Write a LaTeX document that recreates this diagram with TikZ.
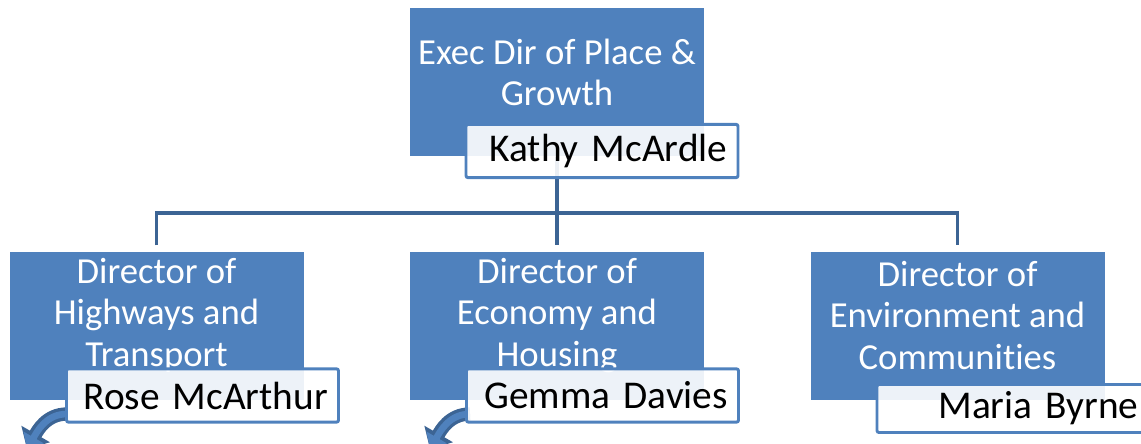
\documentclass[tikz,border=0pt]{standalone}
\usepackage{fontspec}
\setmainfont{Carlito}[Ligatures=NoCommon]
\usetikzlibrary{positioning,arrows.meta,calc}
\definecolor{boxblue}{RGB}{79,129,189}
\definecolor{lineblue}{RGB}{60,100,148}

\begin{document}
\begin{tikzpicture}
[x=0.75pt,y=-0.75pt,
role/.style={rectangle, fill=boxblue, minimum width=220.5pt, minimum height=111.5pt, inner sep=0pt},
roletext/.style={text=white, align=center, font=\fontsize{27.5}{31}\selectfont},
person/.style={rectangle, rounded corners=1.5pt, draw=boxblue, line width=2.2pt,
fill=white, fill opacity=0.9, text opacity=1, text width=188pt, align=right,
inner xsep=8pt, minimum height=40pt, font=\fontsize{29.5}{34}\selectfont},
link/.style={draw=lineblue, line width=2.8pt},
arcout/.style={draw=lineblue, line width=10pt, -{Triangle[length=13pt,width=24pt]}},
arcin/.style={draw=boxblue, line width=5pt, -{Triangle[length=10pt,width=17pt]}}]
\useasboundingbox (0,0) rectangle (1141,443);
\node[role] (exec) at (557,82) {};
\node[role] (highways) at (156.5,326) {};
\node[role] (economy) at (557,326) {};
\node[role] (environment) at (957.5,326) {};
\node[roletext] (exectext) at ([yshift=7pt]exec.center) {Exec Dir of Place \&\\Growth};
\node[roletext] (highwaystext) at ([yshift=8pt]highways.center) {Director of\\Highways and\\Transport};
\node[roletext] (economytext) at ([yshift=8pt]economy.center) {Director of\\Economy and\\Housing};
\node[roletext] (environmenttext) at ([yshift=8pt]environment.center) {Director of\\Environment and\\Communities};

\coordinate (bus) at (557,213);
\coordinate (rosetip) at (27,449);
\coordinate (gemmatip) at (430,449);
\draw[link] (exec.south) -- (bus);
\draw[link] ([yshift=4.5pt]highways.north) |- (bus) -| ([yshift=4.5pt]environment.north);
\draw[link] (bus) -- ([yshift=4.5pt]economy.north);

\draw[arcout] (67,414) to[out=180,in=60] (rosetip);
\draw[arcin] (67,414) to[out=180,in=60] (rosetip);
\draw[arcout] (470,414) to[out=180,in=60] (gemmatip);
\draw[arcin] (470,414) to[out=180,in=60] (gemmatip);

\node[person] (kathy) at (602,151) {Kathy McArdle};
\node[person] (rose) at (202.5,395.5) {Rose McArthur};
\node[person] (gemma) at (602.5,395.5) {Gemma Davies};
\node[person, minimum height=36pt] (maria) at (1013,408.5) {Maria Byrne};
\end{tikzpicture}
\end{document}
